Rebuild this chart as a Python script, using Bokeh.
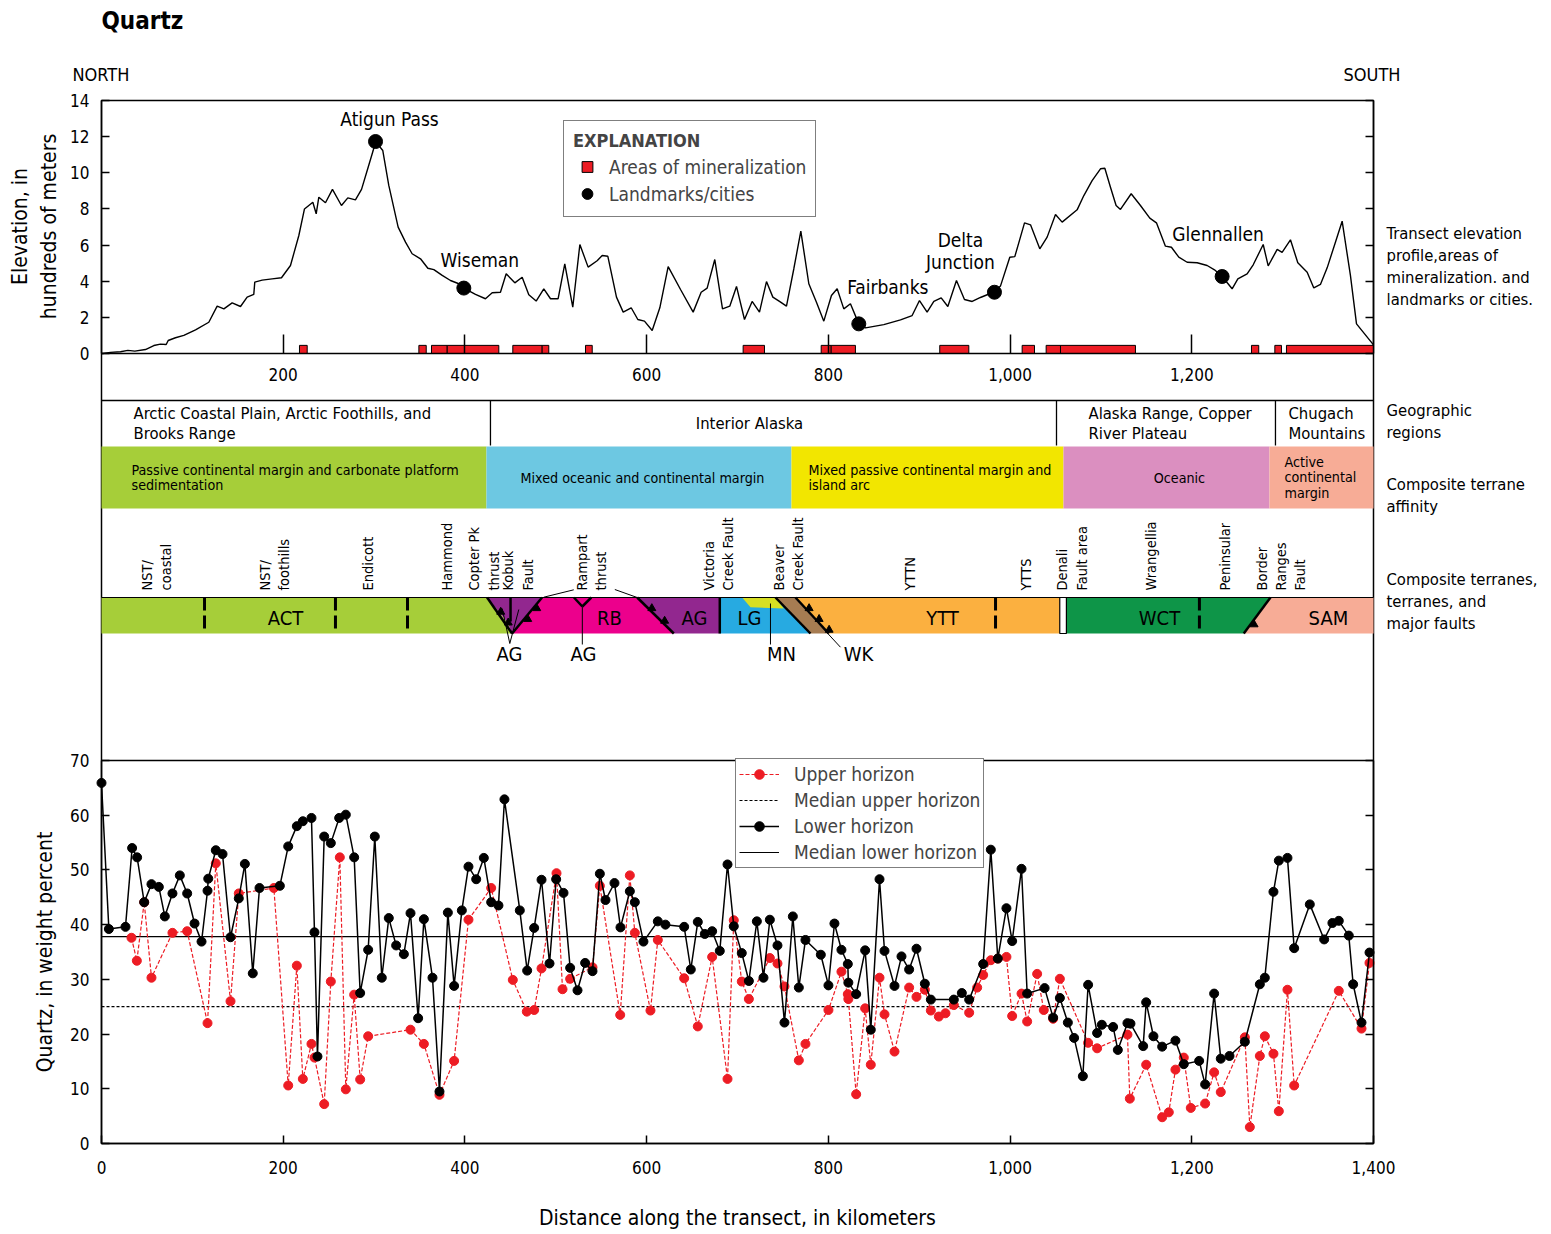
import numpy as np
from bokeh.plotting import figure
from bokeh.models import (Range1d, LinearAxis, FixedTicker, NumeralTickFormatter,
                          Legend, LegendItem)
from bokeh.core.properties import value
from bokeh.embed import file_html
from bokeh.resources import INLINE

FONT = "DejaVu Sans Condensed"
RED = "#ED1C24"

# ---------------------------------------------------------------
# Transect elevation profile (distance in km, elevation in 100s m)
# ---------------------------------------------------------------
profile_km = [0, 1.5, 9.9, 20.9, 29.0, 36.7, 48.4, 57.6, 64.9, 71.2, 73.4, 81.4, 90.6,
              103.5, 118.1, 127.3, 134.7, 143.8, 153.0, 160.3, 167.6, 168.7, 176.8, 187.8,
              198.1, 208.0, 217.2, 223.4, 232.6, 236.3, 239.2, 246.5, 254.2, 264.1, 271.1,
              279.5, 286.2, 293.5, 299.0, 301.6, 309.6, 316.2, 326.5, 334.6, 341.9, 351.1,
              359.2, 365.8, 375.0, 384.1, 393.3, 398.8, 411.6, 422.6, 430.0, 439.1, 445.4,
              454.9, 463.0, 470.3, 478.4, 486.8, 494.2, 502.6, 509.9, 518.7, 526.5, 535.6,
              545.5, 551.1, 557.3, 566.8, 574.2, 583.0, 590.3, 597.6, 606.1, 614.5, 623.7,
              637.3, 651.2, 660.0, 666.6, 675.0, 683.5, 691.5, 698.9, 707.7, 716.1, 724.2,
              731.9, 738.9, 746.2, 753.9, 762.0, 769.7, 778.5, 786.9, 795.0, 803.4, 809.7,
              817.0, 824.3, 833.5, 840.9, 861.0, 879.4, 892.2, 900.3, 908.7, 916.1, 924.2,
              931.5, 941.0, 949.8, 958.3, 967.4, 974.8, 982.8, 989.4, 999.7, 1005.2, 1015.9,
              1022.5, 1032.7, 1040.8, 1050.0, 1057.3, 1073.8, 1081.2, 1090.3, 1099.5, 1104.3,
              1110.5, 1116.7, 1121.5, 1133.3, 1143.5, 1153.8, 1161.1, 1171.0, 1177.6, 1185.7,
              1194.9, 1205.9, 1216.9, 1225.0, 1233.4, 1244.4, 1250.7, 1260.9, 1267.6, 1278.6,
              1284.1, 1294.0, 1299.4, 1308.6, 1316.7, 1327.0, 1334.3, 1341.6, 1349.0, 1358.1,
              1365.5, 1374.6, 1381.3, 1400.0]
profile_elev = [0.0, 0.0, 0.06, 0.1, 0.17, 0.13, 0.22, 0.44, 0.52, 0.5, 0.72, 0.87, 1.0,
                1.31, 1.73, 2.62, 2.47, 2.8, 2.6, 3.12, 3.27, 3.95, 4.06, 4.13,
                4.19, 4.87, 6.53, 8.0, 8.37, 7.73, 8.65, 8.34, 9.08, 8.19, 8.61,
                8.5, 9.08, 10.31, 11.23, 11.73, 11.23, 9.3, 6.99, 6.16, 5.52, 5.24,
                4.72, 4.64, 4.32, 4.04, 3.86, 3.62, 3.27, 3.03, 3.36, 3.39, 4.41,
                3.91, 4.22, 3.25, 2.9, 3.58, 3.03, 3.03, 4.96, 2.56, 6.03, 4.78,
                5.13, 5.42, 5.38, 3.12, 2.29, 2.53, 1.88, 1.79, 1.27, 2.53, 4.81,
                3.54, 2.29, 3.39, 3.62, 5.2, 2.47, 2.62, 3.71, 1.88, 2.88, 2.29,
                3.98, 3.12, 2.88, 2.62, 4.69, 6.77, 3.86, 2.84, 1.79, 3.21, 3.58,
                2.47, 2.75, 1.64, 1.42, 1.6, 1.86, 2.1, 2.93, 2.29, 2.88, 3.08,
                2.6, 4.04, 2.99, 2.88, 3.1, 3.25, 3.39, 3.73, 5.33, 5.36, 7.23,
                7.12, 5.79, 6.44, 7.69, 7.27, 7.95, 8.74, 9.57, 10.22, 10.25,
                9.2, 8.19, 7.97, 8.84, 8.19, 7.49, 7.23, 5.94, 5.88, 5.33,
                5.05, 5.02, 4.87, 4.63, 4.26, 3.58, 4.13, 4.41, 4.91, 6.03,
                4.85, 5.76, 5.6, 6.29, 5.02, 4.5, 3.63, 3.82, 4.74, 6.16,
                7.32, 4.32, 1.64, 0.48]

landmark_names = ["Atigun Pass", "Wiseman", "Fairbanks", "Delta\nJunction", "Glennallen"]
landmark_km = [301.6, 398.8, 833.5, 982.8, 1233.4]
landmark_elev = [11.73, 3.62, 1.64, 3.39, 4.26]

# Areas of mineralization along the transect (km)
mineral_start = [217.9, 349.3, 363.2, 380.5, 452.7, 485.0, 532.7, 706.2, 792.1, 803.1,
                 922.6, 1013.3, 1039.7, 1055.5, 1265.7, 1291.4, 1304.2]
mineral_end = [226.4, 357.4, 380.5, 437.3, 485.0, 492.3, 540.1, 729.7, 803.1, 829.8,
               954.6, 1026.9, 1055.5, 1138.0, 1273.7, 1298.7, 1400.0]

elev_ticks = [0, 2, 4, 6, 8, 10, 12, 14]
profile_dist_ticks = [200, 400, 600, 800, 1000, 1200]

# ---------------------------------------------------------------
# Geographic regions, terrane affinity and terranes (km)
# ---------------------------------------------------------------
geo_names = ["Arctic Coastal Plain, Arctic Foothills, and\nBrooks Range",
             "Interior Alaska",
             "Alaska Range, Copper\nRiver Plateau",
             "Chugach\nMountains"]
geo_label_km = [35.2, 713.2, 1086.3, 1306.4]
geo_dividers_km = [428.1, 1051.1, 1292.1]

affinity_names = ["Passive continental margin and carbonate platform\nsedimentation",
                  "Mixed oceanic and continental margin",
                  "Mixed passive continental margin and\nisland arc",
                  "Oceanic",
                  "Active\ncontinental\nmargin"]
affinity_start = [0, 423.7, 759.4, 1058.8, 1285.5]
affinity_end = [423.7, 759.4, 1058.8, 1285.5, 1400]
affinity_label_km = [33.0, 595.4, 778.1, 1186.4, 1302.0]
affinity_centered = [False, True, False, True, False]
affinity_colors = ["#A6CE39", "#6DC8E2", "#F2E600", "#DB8FC0", "#F7AC96"]

terrane_names = ["ACT", "RB", "AG", "LG", "YTT", "WCT", "SAM"]
terrane_label_km = [202.5, 559.1, 652.7, 713.2, 925.6, 1164.4, 1350.4]

upper_tags = ["NST/\ncoastal", "NST/\nfoothills", "Endicott", "Hammond", "Copter Pk\nthrust",
              "Kobuk\nFault", "Rampart\nthrust", "Victoria\nCreek Fault", "Beaver\nCreek Fault",
              "YTTN", "YTTS", "Denali\nFault area", "Wrangellia", "Peninsular",
              "Border\nRanges\nFault"]
upper_tag_km = [60.5, 190.4, 292.8, 380.8, 421.0, 458.4, 539.3, 679.1, 756.1,
                890.4, 1017.0, 1068.1, 1155.6, 1237.1, 1298.2]

lower_tags = ["AG", "AG", "MN", "WK"]
lower_tag_km = [449.1, 530.5, 748.4, 833.2]

terrane_dashed_km = [113.4, 257.5, 336.8, 984.0, 1208.4]

# ---------------------------------------------------------------
# Quartz content, weight percent
# ---------------------------------------------------------------
upper_km = [33.0, 38.9, 47.0, 55.0, 78.1, 94.3, 116.7, 125.8, 142.0, 151.1, 189.7, 205.5,
            215.0, 221.6, 231.1, 234.4, 245.1, 252.4, 262.3, 268.9, 278.1, 284.7, 293.5,
            340.1, 354.8, 372.0, 388.1, 403.9, 428.9, 452.7, 468.1, 476.2, 484.3, 500.8,
            507.4, 515.8, 540.4, 548.5, 570.9, 581.5, 587.0, 604.2, 612.3, 641.3, 656.3,
            672.1, 689.0, 695.9, 704.7, 712.5, 735.6, 744.0, 751.7, 767.5, 774.8, 800.1,
            814.4, 821.4, 822.0, 830.6, 840.5, 846.7, 856.3, 861.8, 872.8, 888.9, 897.0,
            906.2, 912.8, 921.6, 928.9, 938.1, 955.0, 963.8, 970.4, 978.8, 986.5, 996.0,
            1002.3, 1012.6, 1018.8, 1029.8, 1037.1, 1047.4, 1054.8, 1085.9, 1095.8, 1129.2,
            1131.8, 1149.8, 1167.4, 1174.7, 1182.0, 1191.2, 1198.9, 1214.7, 1224.6, 1231.9,
            1258.4, 1263.9, 1274.9, 1280.4, 1289.9, 1295.8, 1305.3, 1312.7, 1361.8, 1386.8,
            1395.6]
upper_pct = [37.6, 33.4, 44.1, 30.3, 38.5, 38.8, 22.0, 51.2, 26.0, 45.7, 46.7, 10.6,
             32.5, 11.8, 18.2, 15.7, 7.2, 29.6, 52.3, 9.9, 27.2, 11.7, 19.6,
             20.8, 18.2, 8.9, 15.1, 40.9, 46.7, 29.9, 24.1, 24.4, 32.0, 49.4,
             28.2, 30.1, 32.2, 47.1, 23.5, 49.0, 38.5, 24.3, 37.2, 30.2, 21.4,
             34.1, 11.8, 40.8, 29.6, 26.4, 33.9, 32.9, 28.7, 15.2, 18.2, 24.4,
             31.4, 27.3, 26.4, 9.0, 24.7, 14.4, 30.3, 23.6, 16.8, 28.5, 26.8,
             28.1, 24.3, 23.2, 23.8, 25.3, 23.9, 28.5, 30.8, 33.5, 33.8, 34.1,
             23.3, 27.4, 22.3, 31.0, 24.4, 22.8, 30.1, 18.4, 17.4, 19.9,
             8.2, 14.4, 4.8, 5.7, 13.5, 15.7, 6.5, 7.3, 13.0, 9.4,
             19.4, 3.0, 16.0, 19.6, 16.4, 5.9, 28.1, 10.6, 27.9, 21.0,
             33.0]

lower_km = [0.0, 8.1, 26.4, 33.7, 39.2, 47.0, 55.0, 63.1, 69.7, 78.1, 86.2, 94.3, 102.4,
            110.1, 116.7, 117.5, 125.8, 133.2, 142.0, 151.1, 157.8, 166.5, 173.9, 196.3,
            205.5, 215.0, 221.6, 231.1, 234.4, 237.7, 245.1, 252.4, 261.6, 268.9, 278.1,
            284.7, 293.5, 300.8, 308.5, 316.2, 324.3, 332.8, 340.1, 348.5, 354.8, 364.3,
            372.0, 381.2, 388.1, 396.6, 403.9, 412.4, 420.8, 428.9, 436.9, 443.5, 460.4,
            468.5, 476.2, 484.3, 493.1, 500.4, 508.5, 515.8, 523.9, 532.3, 540.4, 548.5,
            554.7, 564.6, 571.2, 581.5, 587.0, 596.5, 612.3, 620.7, 641.3, 648.6, 656.3,
            664.0, 672.1, 680.5, 689.0, 695.9, 704.7, 712.5, 721.3, 728.6, 735.6, 744.0,
            751.7, 760.9, 767.5, 774.8, 791.7, 800.1, 806.7, 814.4, 821.4, 822.0, 830.6,
            840.5, 846.7, 856.3, 861.8, 872.8, 880.5, 888.9, 897.0, 906.2, 912.8, 938.1,
            946.9, 955.0, 970.4, 978.8, 986.5, 996.0, 1002.3, 1012.6, 1018.8, 1038.0,
            1047.4, 1054.8, 1063.6, 1070.5, 1080.1, 1085.9, 1095.8, 1101.0, 1113.4, 1118.6,
            1129.2, 1132.5, 1146.5, 1149.8, 1157.8, 1167.4, 1182.0, 1191.2, 1208.1, 1214.7,
            1224.6, 1231.9, 1241.5, 1258.4, 1274.9, 1280.4, 1289.9, 1295.8, 1305.3, 1312.7,
            1329.9, 1345.7, 1354.8, 1361.8, 1372.8, 1377.6, 1386.8, 1395.6]
lower_pct = [65.9, 39.2, 39.6, 54.0, 52.3, 44.1, 47.4, 46.9, 41.5, 45.7, 49.0, 45.7, 40.2,
             36.9, 46.2, 48.4, 53.6, 52.9, 37.7, 44.8, 51.1, 31.1, 46.7, 47.1,
             54.3, 58.0, 58.9, 59.5, 38.6, 15.9, 56.1, 54.9, 59.5, 60.1, 52.3,
             27.5, 35.4, 56.1, 30.3, 41.2, 36.2, 34.6, 42.1, 22.9, 41.0, 30.3,
             9.5, 42.2, 28.8, 42.6, 50.6, 48.3, 52.2, 44.1, 43.5, 62.9, 42.6,
             31.6, 39.4, 48.2, 32.9, 48.3, 45.8, 32.1, 28.0, 33.0, 31.5, 49.3,
             44.5, 47.6, 39.5, 46.1, 44.1, 36.9, 40.6, 40.0, 39.6, 31.8, 40.5,
             38.3, 38.8, 35.2, 51.0, 39.7, 34.8, 29.7, 40.6, 30.3, 40.9, 36.2,
             22.1, 41.5, 28.5, 37.2, 34.5, 28.9, 40.2, 35.4, 32.8, 29.4, 27.3,
             35.3, 20.8, 48.3, 35.2, 28.8, 34.2, 31.8, 35.6, 29.2, 26.3, 26.3,
             27.5, 26.3, 32.8, 53.7, 33.8, 43.0, 37.0, 50.2, 27.4, 28.4,
             23.0, 26.6, 22.1, 19.3, 12.3, 29.0, 20.2, 21.7, 21.3, 17.1,
             22.0, 21.9, 17.8, 25.8, 19.6, 17.7, 18.8, 14.5, 15.1, 10.8,
             27.4, 15.5, 16.0, 18.6, 29.1, 30.3, 46.0, 51.7, 52.2, 35.7,
             43.7, 37.3, 40.3, 40.7, 38.0, 29.1, 22.1, 34.9]

median_upper = 25.0
median_lower = 37.8

quartz_ticks = [0, 10, 20, 30, 40, 50, 60, 70]
dist_ticks = [0, 200, 400, 600, 800, 1000, 1200, 1400]

# ---------------------------------------------------------------
# Page geometry: one canvas, three stacked panels sharing the km axis.
# The default y range counts page rows (0 at the top).
# ---------------------------------------------------------------
W, H = 1551, 1234
X0_PX, X1_PX = 101, 1373          # where 0 km and 1400 km sit
KM_PER_PX = 1400 / (X1_PX - X0_PX)
ELEV_BASE, ELEV_TOP = 353, 100    # rows of 0 and 14 (hundreds of m)
QZ_BASE, QZ_TOP = 1143, 760       # rows of 0 and 70 (weight percent)
ELEV_PX = (ELEV_BASE - ELEV_TOP) / 14
QZ_PX = (QZ_BASE - QZ_TOP) / 70

p = figure(width=W, height=H, output_backend="svg", toolbar_location=None,
           x_range=Range1d(-X0_PX * KM_PER_PX, 1400 + (W - X1_PX) * KM_PER_PX),
           y_range=Range1d(H, 0), x_axis_type=None, y_axis_type=None,
           min_border=0, outline_line_color=None,
           background_fill_color="white", border_fill_color="white")
p.extra_x_ranges = {"px": Range1d(0, W)}
p.extra_y_ranges = {
    "elev": Range1d(-(H - ELEV_BASE) / ELEV_PX, ELEV_BASE / ELEV_PX),
    "quartz": Range1d(-(H - QZ_BASE) / QZ_PX, QZ_BASE / QZ_PX),
}


def style_axis(ax, tick_in=8, size="17px", standoff=12, labels=True):
    ax.major_tick_in = tick_in
    ax.major_tick_out = 0
    ax.minor_tick_line_color = None
    ax.axis_line_color = "black"
    ax.axis_line_width = 1.5
    ax.major_tick_line_color = "black"
    ax.major_tick_line_width = 1.5
    ax.major_label_text_font = FONT
    ax.major_label_text_font_size = size
    ax.major_label_text_color = "black" if labels else None
    ax.major_label_standoff = standoff
    ax.axis_label_text_font = FONT
    ax.axis_label_text_font_size = "21px"
    ax.axis_label_text_font_style = "normal"
    ax.axis_label_text_color = "black"


def add_axis(side, labels=True, tick_in=8, standoff=12, **kw):
    ax = LinearAxis(**kw)
    style_axis(ax, tick_in=tick_in, standoff=standoff, labels=labels)
    p.add_layout(ax, side)
    return ax


def page_text(x, y, text, size="16.5px", **kw):
    kw.setdefault("text_baseline", "middle")
    p.text(x=[x], y=[y], text=[text], x_range_name="px", text_font=value(FONT),
           text_font_size=size, text_color="black", **kw)


# panel frames
p.quad(left=[0], right=[1400], top=[ELEV_TOP], bottom=[QZ_BASE],
       fill_color=None, line_color="black", line_width=1.5)
p.segment(x0=0, x1=1400, y0=[400, QZ_TOP], y1=[400, QZ_TOP], line_color="black",
          line_width=1.5)

# ======================= Elevation profile =======================
add_axis("left", y_range_name="elev", fixed_location=0, bounds=(0, 14),
         ticker=FixedTicker(ticks=elev_ticks))
add_axis("right", labels=False, y_range_name="elev", fixed_location=1400, bounds=(0, 14),
         ticker=FixedTicker(ticks=elev_ticks))
add_axis("below", tick_in=19, standoff=14, y_range_name="elev", fixed_location=0,
         bounds=(0, 1400), ticker=FixedTicker(ticks=profile_dist_ticks),
         formatter=NumeralTickFormatter(format="0,0"))

p.line(profile_km, profile_elev, y_range_name="elev", line_color="black", line_width=1.4)
p.quad(left=mineral_start, right=mineral_end, bottom=0, top=0.45, y_range_name="elev",
       fill_color=RED, line_color="black", line_width=1)
lm = p.scatter(landmark_km, landmark_elev, y_range_name="elev", size=14,
               fill_color="black", line_color="black")
p.text(x=landmark_km, y=landmark_elev, text=landmark_names, y_range_name="elev",
       x_offset=[14, 16, 29, -34, -4], y_offset=[-23, -28, -37, -41, -43],
       text_align="center", text_baseline="middle", text_font=value(FONT),
       text_font_size="19px", text_color="black", text_line_height=1.0)

mineral_key = p.scatter(x=[np.nan], y=[np.nan], y_range_name="elev", marker="square",
                        size=12, fill_color=RED, line_color="black")
p.add_layout(Legend(items=[LegendItem(label="Areas of mineralization", renderers=[mineral_key]),
                           LegendItem(label="Landmarks/cities", renderers=[lm])],
                    location=(563, H - 217), title="EXPLANATION",
                    title_text_font=FONT, title_text_font_size="18px",
                    title_text_font_style="bold", title_standoff=2,
                    label_text_font=FONT, label_text_font_size="19px",
                    glyph_width=28, glyph_height=27, label_standoff=8,
                    spacing=0, padding=9, margin=0,
                    border_line_color="black", border_line_width=1.3,
                    background_fill_color="white", background_fill_alpha=1))

page_text(101, 20, "Quartz", size="24px", text_font_style="bold")
page_text(72, 74, "NORTH", size="18px")
page_text(1400, 74, "SOUTH", size="18px", text_align="right")
page_text(34, 226, "Elevation, in\nhundreds of meters", size="21px", angle=np.pi / 2,
          text_align="center", text_line_height=1.2)
for label, row in [("Transect elevation\nprofile,areas of\nmineralization. and\nlandmarks or cities.", 266),
                   ("Geographic\nregions", 421),
                   ("Composite terrane\naffinity", 495),
                   ("Composite terranes,\nterranes, and\nmajor faults", 601)]:
    page_text(1386, row, label, text_line_height=1.17)

# ======================= Regions, affinity, terranes =======================
T, B = 597, 633  # terrane band rows

p.segment(x0=geo_dividers_km, y0=400, x1=geo_dividers_km, y1=445, line_color="black",
          line_width=1.3)
for name, km in zip(geo_names, geo_label_km):
    p.text(x=[km], y=[423], text=[name],
           text_align="center" if name == "Interior Alaska" else "left",
           text_baseline="middle", text_font=value(FONT), text_font_size="16.5px",
           text_color="black", text_line_height=1.1)

p.quad(left=affinity_start, right=affinity_end, top=446, bottom=508,
       fill_color=affinity_colors, line_color=None)
for name, km, centered in zip(affinity_names, affinity_label_km, affinity_centered):
    p.text(x=[km], y=[477], text=[name], text_align="center" if centered else "left",
           text_baseline="middle", text_font=value(FONT), text_font_size="14.2px",
           text_color="black", text_line_height=0.95)

terrane_polys = [
    ("#A6CE39", [0, 424.4, 447.0, 451.9, 0], [T, T, 622, B, B]),           # ACT
    ("#92278F", [424.4, 484.9, 451.9, 447.0], [T, T, B, 622]),             # AG
    ("#EC008C", [484.9, 589.6, 629.9, 451.9], [T, T, B, B]),               # RB
    ("#92278F", [589.6, 680.5, 680.5, 629.9], [T, T, B, B]),               # AG
    ("#27AAE1", [680.5, 741.8, 780.3, 680.5], [T, T, B, B]),               # LG
    ("#D7DF23", [705.1, 741.8, 751.0, 714.3], [T, T, 608, 606.7]),         # MN
    ("#A67C52", [741.8, 763.8, 800.5, 780.3], [T, T, B, B]),               # WK
    ("#FBB040", [763.8, 1054.7, 1054.7, 800.5], [T, T, B, B]),             # YTT
    ("#0E9548", [1062.0, 1286.6, 1257.2, 1062.0], [T, T, B, B]),           # WCT
    ("#F7AC96", [1286.6, 1400, 1400, 1257.2], [T, T, B, B]),               # SAM
]
p.patches(xs=[q[1] for q in terrane_polys], ys=[q[2] for q in terrane_polys],
          fill_color=[q[0] for q in terrane_polys], line_color=None)
p.patch([1054.7, 1062.0, 1062.0, 1054.7], [T, T, B, B], fill_color="white",
        line_color="black", line_width=1.2)
p.segment(x0=[0], y0=[T], x1=[1400], y1=[T], line_color="black", line_width=1)

p.segment(x0=terrane_dashed_km, y0=T, x1=terrane_dashed_km, y1=B, line_color="black",
          line_width=3, line_dash="13 5")
faults = [(424.4, T, 451.9, B), (450.2, T, 450.2, 621), (484.9, T, 451.9, B),
          (520.0, T, 529.2, 606), (529.2, 606, 539.1, T), (589.6, T, 629.9, B),
          (680.5, T, 680.5, B), (741.8, T, 780.3, B), (763.8, T, 800.5, B),
          (1286.6, T, 1257.2, B)]
p.segment(x0=[f[0] for f in faults], y0=[f[1] for f in faults],
          x1=[f[2] for f in faults], y1=[f[3] for f in faults],
          line_color="black", line_width=2.5)
tx, ty = [], []
for f, fr in zip(faults, [(0.4, 0.7), (), (0.3, 0.6), (), (), (0.3, 0.65), (),
                          (), (0.3, 0.6, 0.9), (0.75,)]):
    for t in fr:
        tx.append(f[0] + t * (f[2] - f[0]) + 4)
        ty.append(f[1] + t * (f[3] - f[1]))
p.scatter(tx, ty, marker="triangle", size=8, fill_color="black", line_color="black")

leaders = [(449.4, 643, 441.0, 608), (449.4, 643, 459.3, 609), (529.2, 606, 529.2, 644),
           (736.3, 603, 736.3, 644), (813.3, 646.7, 789.5, 623.3),
           (486.8, 596.7, 519.8, 589.3), (565.0, 589, 589.6, 597)]
p.segment(x0=[l[0] for l in leaders], y0=[l[1] for l in leaders],
          x1=[l[2] for l in leaders], y1=[l[3] for l in leaders],
          line_color="black", line_width=1)

p.text(x=terrane_label_km, y=[617] * len(terrane_names), text=terrane_names,
       text_align="center", text_baseline="middle", text_font=value(FONT),
       text_font_size="20px", text_color="black")
p.text(x=lower_tag_km, y=[653] * len(lower_tags), text=lower_tags,
       text_align="center", text_baseline="middle", text_font=value(FONT),
       text_font_size="20px", text_color="black")
p.text(x=upper_tag_km, y=[590] * len(upper_tags), text=upper_tags, angle=np.pi / 2,
       text_align="left", text_baseline="middle", text_font=value(FONT),
       text_font_size="14.5px", text_color="black", text_line_height=1.2)

# ======================= Quartz =======================
add_axis("left", standoff=12, y_range_name="quartz", fixed_location=0, bounds=(0, 70),
         ticker=FixedTicker(ticks=quartz_ticks), axis_label="Quartz, in weight percent",
         axis_label_standoff=10)
add_axis("right", labels=False, y_range_name="quartz", fixed_location=1400, bounds=(0, 70),
         ticker=FixedTicker(ticks=quartz_ticks))
add_axis("below", standoff=17, y_range_name="quartz", fixed_location=0, bounds=(0, 1400),
         ticker=FixedTicker(ticks=dist_ticks), formatter=NumeralTickFormatter(format="0,0"),
         axis_label="Distance along the transect, in kilometers", axis_label_standoff=29)

med_up = p.segment(x0=[0], x1=[1400], y0=[median_upper], y1=[median_upper],
                   y_range_name="quartz", line_color="black", line_width=1.2, line_dash="3 2")
med_lo = p.segment(x0=[0], x1=[1400], y0=[median_lower], y1=[median_lower],
                   y_range_name="quartz", line_color="black", line_width=1.2)
up_line = p.line(upper_km, upper_pct, y_range_name="quartz", line_color=RED, line_width=1.2,
                 line_dash="4 2")
up_pts = p.scatter(upper_km, upper_pct, y_range_name="quartz", size=9, fill_color=RED,
                   line_color=RED)
lo_line = p.line(lower_km, lower_pct, y_range_name="quartz", line_color="black",
                 line_width=1.5)
lo_pts = p.scatter(lower_km, lower_pct, y_range_name="quartz", size=9, fill_color="black",
                   line_color="black")

p.add_layout(Legend(items=[LegendItem(label="Upper horizon", renderers=[up_line, up_pts]),
                           LegendItem(label="Median upper horizon", renderers=[med_up]),
                           LegendItem(label="Lower horizon", renderers=[lo_line, lo_pts]),
                           LegendItem(label="Median lower horizon", renderers=[med_lo])],
                    location=(735, H - 868), label_text_font=FONT, label_text_font_size="19px",
                    glyph_width=40, glyph_height=24, label_standoff=15, spacing=2,
                    padding=3, margin=0, border_line_color="black", border_line_width=1.3,
                    background_fill_color="white", background_fill_alpha=1))

open("out.html", "w").write(file_html(p, INLINE))
